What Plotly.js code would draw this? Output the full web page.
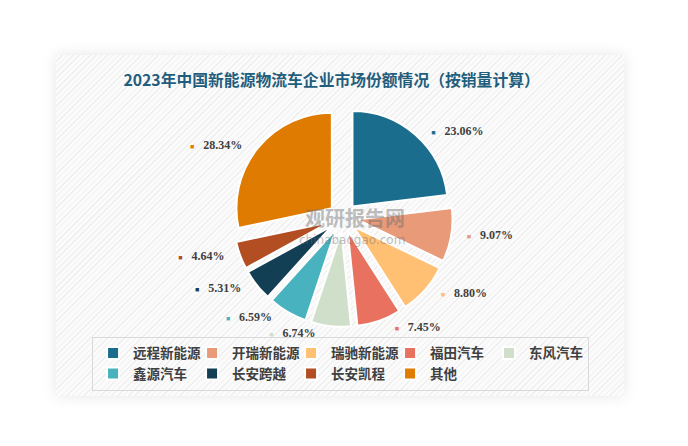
<!DOCTYPE html>
<html>
<head>
<meta charset="utf-8">
<script src="https://cdn.plot.ly/plotly-3.0.1.min.js"></script>
<style>
  html, body { margin: 0; padding: 0; background: #ffffff; }
  #wrap { position: relative; width: 688px; height: 446px; overflow: hidden; }
  #card {
    position: absolute; left: 56px; top: 55px; width: 568px; height: 341px;
    background-color: #fbfbfb;
    background-image: repeating-linear-gradient(135deg, #efefef 0px, #efefef 1px, #fbfbfb 1px, #fbfbfb 4px);
    box-shadow: 0 0 14px rgba(0,0,0,0.10);
  }
  #chart { position: absolute; left: 0; top: 0; width: 688px; height: 446px; }
</style>
</head>
<body>
<div id="wrap">
  <div id="card"></div>
  <div id="chart"></div>
</div>
<script>
const categories = ['远程新能源', '开瑞新能源', '瑞驰新能源', '福田汽车', '东风汽车', '鑫源汽车', '长安跨越', '长安凯程', '其他'];
const shares = [23.06, 9.07, 8.80, 7.45, 6.74, 6.59, 5.31, 4.64, 28.34];
const colors = ['#1b6d8e', '#e89a79', '#ffc073', '#e8715f', '#d0dfca', '#48b2bf', '#133f55', '#b34d22', '#df7b00'];
const chartTitle = '2023年中国新能源物流车企业市场份额情况（按销量计算）';

const pad = '\u00a0\u00a0\u00a0\u00a0';
const trace = {
  type: 'pie',
  labels: categories,
  values: shares,
  sort: false,
  direction: 'clockwise',
  rotation: 0,
  pull: 0.15,
  marker: { colors: colors, line: { color: '#ffffff', width: 2 } },
  textposition: 'outside',
  texttemplate: pad + '<span style="color:%{color};font-size:7px">■</span>\u00a0\u00a0\u00a0%{value:.2f}%' + pad,
  outsidetextfont: { family: 'Liberation Serif', size: 12, color: '#404040', weight: 'bold' },
  hoverinfo: 'label+percent',
  domain: { x: [0.3390, 0.6580], y: [0.2660, 0.7600] },
  automargin: false
};

const layout = {
  width: 688, height: 446,
  margin: { l: 0, r: 0, t: 0, b: 0 },
  paper_bgcolor: 'rgba(0,0,0,0)',
  plot_bgcolor: 'rgba(0,0,0,0)',
  title: {
    text: chartTitle,
    x: 0.482, xanchor: 'center',
    y: 0.82, yanchor: 'middle',
    font: { family: 'Noto Sans CJK SC', size: 15.8, color: '#1f5e7d', weight: 'bold' }
  },
  showlegend: true,
  legend: {
    orientation: 'h',
    x: 0.168, xanchor: 'left',
    y: 0.245, yanchor: 'top',
    bordercolor: '#d9d9d9', borderwidth: 1,
    bgcolor: 'rgba(0,0,0,0)',
    entrywidth: 54, entrywidthmode: 'pixels',
    font: { family: 'Noto Sans CJK SC', size: 13.5, color: '#404040', weight: 'bold' },
    traceorder: 'normal',
    tracegroupgap: 0
  },
  annotations: [
    { text: '观研报告网', x: 0.516, y: 0.512, xref: 'paper', yref: 'paper', showarrow: false,
      font: { family: 'Noto Sans CJK SC', size: 20, color: 'rgba(110,110,110,0.45)', weight: 'bold' } },
    { text: 'chinabaogao.com', x: 0.512, y: 0.463, xref: 'paper', yref: 'paper', showarrow: false,
      font: { family: 'DejaVu Sans', size: 12, color: 'rgba(110,110,110,0.45)' } }
  ]
};

Plotly.newPlot('chart', [trace], layout, { displayModeBar: false, staticPlot: true });
</script>
</body>
</html>
